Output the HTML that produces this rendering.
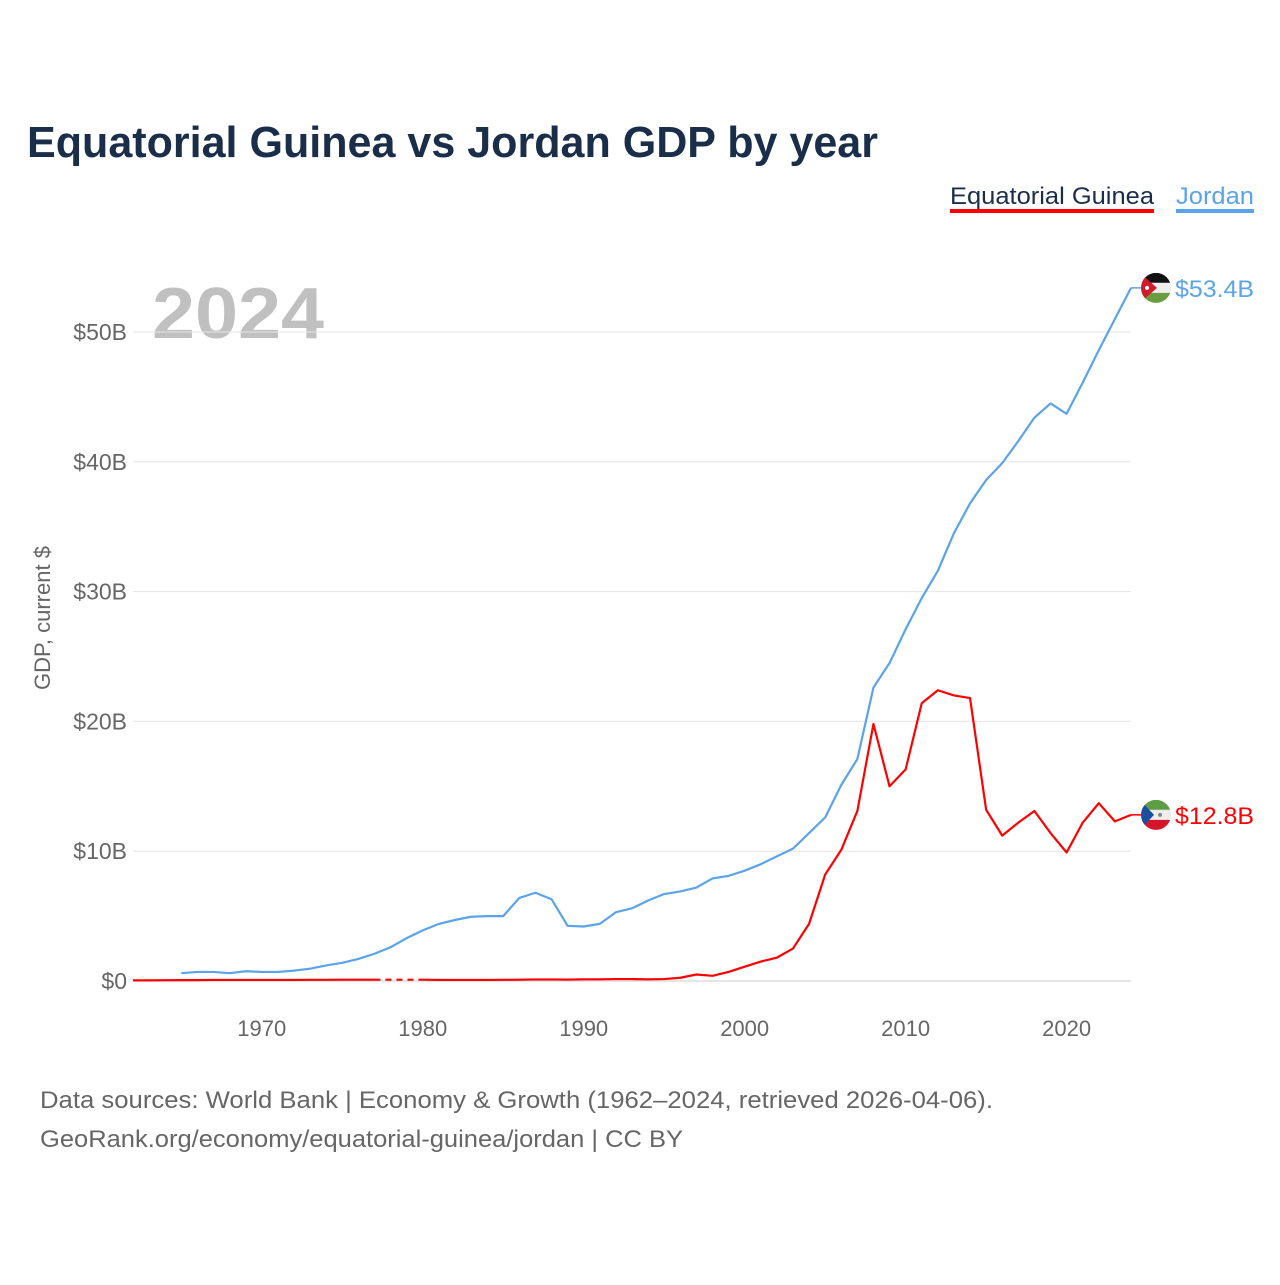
<!DOCTYPE html>
<html><head><meta charset="utf-8"><style>
body{margin:0;background:#fff;font-family:"Liberation Sans",sans-serif}
#wrap{position:relative;width:1280px;height:1280px}
</style></head><body>
<div id="wrap">
<svg id="svg" width="1280" height="1280" xmlns="http://www.w3.org/2000/svg">
<text x="27" y="157" font-size="44" font-weight="bold" fill="#1a2e4a" textLength="851" lengthAdjust="spacingAndGlyphs">Equatorial Guinea vs Jordan GDP by year</text>
<g><text x="950" y="204" font-size="24" fill="#1a2e4a" textLength="204" lengthAdjust="spacingAndGlyphs">Equatorial Guinea</text><rect x="950" y="209" width="204" height="4" fill="#f00"/></g>
<g><text x="1176" y="204" font-size="24" fill="#5ba3ea" textLength="78" lengthAdjust="spacingAndGlyphs">Jordan</text><rect x="1176" y="209" width="78" height="4" fill="#5ba3ea"/></g>
<text x="152" y="338" font-size="72" font-weight="bold" fill="#c0c0c0" textLength="172" lengthAdjust="spacingAndGlyphs">2024</text>
<text transform="translate(50,618) rotate(-90)" text-anchor="middle" font-size="22" fill="#666">GDP, current $</text>
<g id="grid"></g><g id="lines"></g>
<text x="40" y="1108" font-size="24" fill="#666" textLength="953" lengthAdjust="spacingAndGlyphs">Data sources: World Bank | Economy &amp; Growth (1962–2024, retrieved 2026-04-06).</text>
<text x="40" y="1147" font-size="24" fill="#666" textLength="643" lengthAdjust="spacingAndGlyphs">GeoRank.org/economy/equatorial-guinea/jordan | CC BY</text>
</svg></div>
<script>
const yTicks=[0,10,20,30,40,50];
const yTickLabels=["$0","$10B","$20B","$30B","$40B","$50B"];
const xTicks=[1970,1980,1990,2000,2010,2020];
const jordanStart=1965;
const jordan=[0.6,0.7,0.7,0.6,0.75,0.7,0.7,0.8,0.95,1.2,1.4,1.7,2.1,2.6,3.3,3.9,4.4,4.7,4.95,5.0,5.0,6.4,6.8,6.3,4.25,4.2,4.4,5.3,5.6,6.2,6.7,6.9,7.2,7.9,8.1,8.5,9.0,9.6,10.2,11.4,12.6,15.1,17.1,22.6,24.5,27.1,29.5,31.6,34.5,36.8,38.6,39.9,41.6,43.4,44.5,43.7,46.1,48.6,51.0,53.4];
const eqgStart=1962;
const eqg=[0.05,0.05,0.06,0.07,0.07,0.08,0.08,0.08,0.08,0.08,0.08,0.09,0.09,0.1,0.1,0.1,null,null,0.1,0.08,0.08,0.08,0.08,0.09,0.1,0.12,0.12,0.11,0.13,0.13,0.15,0.15,0.13,0.15,0.25,0.5,0.4,0.7,1.1,1.5,1.8,2.5,4.4,8.2,10.1,13.1,19.8,15.0,16.3,21.4,22.4,22.0,21.8,13.2,11.2,12.2,13.1,11.4,9.9,12.2,13.7,12.3,12.8];
const NS="http://www.w3.org/2000/svg";
const X=y=>133+(y-1962)*(1131-133)/62;
const Y=v=>981-v*12.98;
const grid=document.getElementById('grid'),lines=document.getElementById('lines');
function mk(t,a,p){const e=document.createElementNS(NS,t);for(const k in a)e.setAttribute(k,a[k]);p.appendChild(e);return e;}
yTicks.forEach((v,i)=>{
 const l=mk('line',{x1:133,x2:1131,y1:Y(v),y2:Y(v),stroke:v===0?'#ccc':'#e6e6e6','stroke-width':1},grid);
 
 
 const t=mk('text',{x:127,y:Y(v)+8,'text-anchor':'end','font-size':23,fill:'#666'},grid);t.textContent=yTickLabels[i];
 
 
});
xTicks.forEach(y=>{
 const t=mk('text',{x:X(y),y:1036,'text-anchor':'middle','font-size':22,fill:'#666'},grid);t.textContent=y;
 
 
});
function draw(arr,start,color,name){
 let segs=[],cur=[];
 arr.forEach((v,i)=>{if(v==null){if(cur.length)segs.push(cur);cur=[];}else cur.push([X(start+i),Y(v)]);});
 if(cur.length)segs.push(cur);
 segs.forEach(s=>{const p=mk('polyline',{points:s.map(q=>q.join(',')).join(' '),fill:'none',stroke:color,'stroke-width':2.2,'stroke-linejoin':'round'},lines);
  
  });
 for(let k=0;k+1<segs.length;k++){const a=segs[k][segs[k].length-1],b=segs[k+1][0];
  const d=mk('line',{x1:a[0],y1:a[1],x2:b[0],y2:b[1],stroke:color,'stroke-width':2.2,'stroke-dasharray':'6,5'},lines);
  
  }
}
draw(eqg,eqgStart,'#f00','line-equatorial-guinea');
draw(jordan,jordanStart,'#5ba3ea','line-jordan');
function endLabel(v,color,label,flag,name){
 const y=Y(v);
 mk('line',{x1:1131,y1:y,x2:1142,y2:y,stroke:color,'stroke-width':1.5},lines);
 const g=mk('g',{},lines);
 
 
 const cp=mk('clipPath',{id:'c'+name},g);mk('circle',{cx:1156,cy:y,r:15},cp);
 const f=mk('g',{'clip-path':'url(#c'+name+')'},g);
 flag(f,y);
 const t=mk('text',{x:1175,y:y+9,'font-size':24,fill:color,textLength:79,lengthAdjust:'spacingAndGlyphs'},g);t.textContent=label;
}
endLabel(jordan[jordan.length-1],'#5ba3ea','$53.4B',(f,y)=>{
 mk('rect',{x:1140,y:y-15,width:32,height:10,fill:'#111'},f);
 mk('rect',{x:1140,y:y-5,width:32,height:10,fill:'#eee'},f);
 mk('rect',{x:1140,y:y+5,width:32,height:11,fill:'#6a9d3f'},f);
 mk('polygon',{points:`1140,${y-15} 1157,${y} 1140,${y+15}`,fill:'#d01c2b'},f);
 mk('circle',{cx:1147,cy:y,r:2,fill:'#fff'},f);
},'end-label-jordan');
endLabel(eqg[eqg.length-1],'#f00','$12.8B',(f,y)=>{
 mk('rect',{x:1140,y:y-15,width:32,height:10,fill:'#5d9e45'},f);
 mk('rect',{x:1140,y:y-5,width:32,height:10,fill:'#eee'},f);
 mk('rect',{x:1140,y:y+5,width:32,height:11,fill:'#d6142a'},f);
 mk('polygon',{points:`1140,${y-15} 1154,${y} 1140,${y+15}`,fill:'#1a4fa0'},f);
 mk('circle',{cx:1160,cy:y,r:2,fill:'#888'},f);
},'end-label-equatorial-guinea');
</script>
</body></html>
